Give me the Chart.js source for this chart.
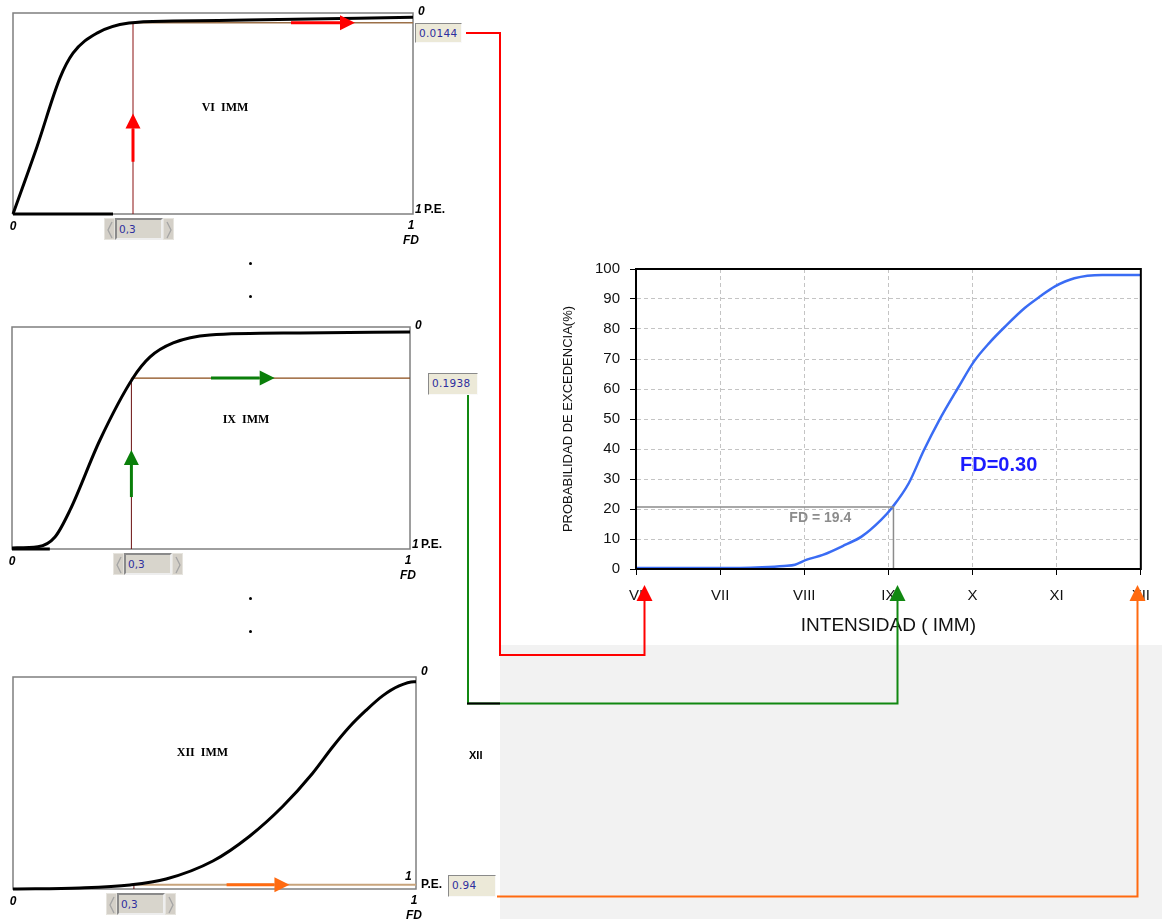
<!DOCTYPE html>
<html>
<head>
<meta charset="utf-8">
<script src="https://cdn.jsdelivr.net/npm/chart.js@4.4.1/dist/chart.umd.min.js"></script>
<style>
  html, body { margin: 0; padding: 0; background: #fff; }
  #page { position: relative; width: 1162px; height: 919px; overflow: hidden; font-family: "Liberation Sans", Arial, sans-serif; }
  .cv { position: absolute; }
  #wm { position: absolute; left: 500px; top: 645px; width: 662px; height: 274px; background: #f2f2f2; }
  .box { position: absolute; box-sizing: border-box; background: #ece9d8; border: 1px solid; border-color: #8a8a8a #fafafa #fafafa #8a8a8a;
         font: 10.5px "DejaVu Sans", Verdana, sans-serif; color: #2e2e9e; padding: 3px 0 0 3px; letter-spacing: 0.3px; }
  .slider { position: absolute; height: 22px; }
  .slider .btn { position: absolute; top: 0; height: 22px; width: 11px; background: #d4d0c8; box-sizing: border-box; border: 1px solid #e6e4de; }
  .slider .btn svg { position: absolute; left: 0; top: 0; }
  .slider .fld { position: absolute; top: 0; height: 22px; width: 48px; box-sizing: border-box; background: #d8d5cc; border: 2px solid; border-color: #8a8a8a #eeeeee #eeeeee #8a8a8a;
                 font: 10.5px "DejaVu Sans", Verdana, sans-serif; color: #2e2e9e; padding: 3px 0 0 2px; }
  .dot { position: absolute; width: 3px; height: 3px; border-radius: 50%; background: #000; }
  #xii { position: absolute; left: 469px; top: 749px; font: bold 11px "Liberation Sans", Arial, sans-serif; }
  #links { position: absolute; left: 0; top: 0; }
</style>
</head>
<body>
<div id="page">
  <div id="wm"></div>
  <div class="cv" style="left:0;top:0;width:470px;height:250px"><canvas id="cVI"></canvas></div>
  <div class="cv" style="left:0;top:310px;width:470px;height:270px"><canvas id="cIX"></canvas></div>
  <div class="cv" style="left:0;top:655px;width:470px;height:264px"><canvas id="cXII"></canvas></div>
  <div class="cv" style="left:540px;top:250px;width:622px;height:400px"><canvas id="cMain"></canvas></div>

  <div class="box" style="left:415px;top:23px;width:47px;height:20px">0.0144</div>
  <div class="box" style="left:428px;top:373px;width:50px;height:22px">0.1938</div>
  <div class="box" style="left:448px;top:875px;width:48px;height:22px">0.94</div>

  <div class="slider" style="left:104px;top:218px"></div>
  <div class="slider" style="left:113px;top:553px"></div>
  <div class="slider" style="left:106px;top:893px"></div>

  <div class="dot" style="left:249px;top:262px"></div>
  <div class="dot" style="left:249px;top:295px"></div>
  <div class="dot" style="left:249px;top:597px"></div>
  <div class="dot" style="left:249px;top:630px"></div>
  <div id="xii">XII</div>

  <svg id="links" width="1162" height="919"></svg>
</div>

<script>
// ---- small charts: P.E. vs FD (y axis reversed: 0 at top, 1 at bottom)
const readFD = 0.3;
const readFDText = '0,3';

const fdVI = [0, 0.06, 0.1175, 0.15, 0.21, 0.29, 0.4, 0.585, 1];
const peVI = [1.0, 0.665, 0.323, 0.2, 0.1, 0.05, 0.04, 0.035, 0.021];
const peLineVI = 0.048;

const fdIX = [0, 0.065, 0.108, 0.146, 0.221, 0.304, 0.347, 0.405, 0.497, 0.724, 1];
const peIX = [0.995, 0.99, 0.946, 0.824, 0.509, 0.23, 0.135, 0.072, 0.036, 0.027, 0.022];
const peLineIX = 0.23;

const fdXII = [0, 0.166, 0.29, 0.38, 0.496, 0.587, 0.669, 0.743, 0.793, 0.834, 0.875, 0.917, 0.958, 0.995, 1];
const peXII = [1.0, 0.995, 0.981, 0.953, 0.868, 0.751, 0.611, 0.455, 0.33, 0.237, 0.159, 0.089, 0.042, 0.022, 0.022];
const peLineXII = 0.98;

// ---- main chart: exceedance probability vs intensity
const intensityLabels = ['VI', 'VII', 'VIII', 'IX', 'X', 'XI', 'XII'];
const intensity = [6.0, 7.0, 7.5, 7.76, 7.89, 8.03, 8.22, 8.49, 8.68, 8.91, 9.05, 9.24, 9.42, 9.6, 9.83, 10.02, 10.2, 10.39, 10.62, 10.8, 10.98, 11.21, 11.54, 12.0];
const exceedance = [0.3, 0.3, 0.6, 1.0, 1.4, 3.1, 4.7, 8.1, 10.8, 16.3, 20.7, 28.5, 39.5, 49.4, 60.5, 69.3, 75.4, 80.9, 87.0, 90.8, 94.2, 96.9, 98.0, 98.0];
const refIntensity = 9.06;
const refLevel = 20.7;
// where the connector arrows hit the intensity axis
const arrowIntensity = [6.1, 9.1, 11.95];

const pts = (xs, ys) => xs.map((x, i) => ({ x: x, y: ys[i] }));

// slider widgets under each small chart
const chev = (d) => `<svg width="11" height="22"><polyline points="${d}" fill="none" stroke="#a4a4a4" stroke-width="1.3"/></svg>`;
document.querySelectorAll('.slider').forEach(el => {
  el.innerHTML = `<div class="btn" style="left:0">${chev('7,3 3,11 7,19')}</div>` +
    `<div class="fld" style="left:11px">${readFDText}</div>` +
    `<div class="btn" style="left:59px">${chev('3,3 7,11 3,19')}</div>`;
});

function drawArrow(ctx, x1, y1, x2, y2, color) {
  const ang = Math.atan2(y2 - y1, x2 - x1), head = 15, half = 7.5;
  const bx = x2 - head * Math.cos(ang), by = y2 - head * Math.sin(ang);
  ctx.strokeStyle = color;
  ctx.lineWidth = 3;
  ctx.beginPath(); ctx.moveTo(x1, y1); ctx.lineTo(bx, by); ctx.stroke();
  ctx.fillStyle = color;
  ctx.beginPath();
  ctx.moveTo(x2, y2);
  ctx.lineTo(bx + half * Math.sin(ang), by - half * Math.cos(ang));
  ctx.lineTo(bx - half * Math.sin(ang), by + half * Math.cos(ang));
  ctx.closePath(); ctx.fill();
}

const smallDecor = {
  id: 'smallDecor',
  beforeDatasetsDraw(chart, args, o) {
    const { ctx, chartArea: a } = chart;
    ctx.save();
    ctx.strokeStyle = '#7f7f7f';
    ctx.lineWidth = 1.5;
    ctx.strokeRect(a.left, a.top, a.right - a.left, a.bottom - a.top);
    ctx.restore();
  },
  afterDatasetsDraw(chart, args, o) {
    const { ctx, chartArea: a, scales: { x, y } } = chart;
    ctx.save();
    o.arrows.forEach(ar => drawArrow(ctx, x.getPixelForValue(ar[0]), y.getPixelForValue(ar[1]),
      x.getPixelForValue(ar[2]), y.getPixelForValue(ar[3]), o.color));

    ctx.fillStyle = '#000';
    ctx.textBaseline = 'middle';
    ctx.textAlign = 'center';
    ctx.font = 'bold 12px "Liberation Serif", "Times New Roman", serif';
    ctx.fillText(o.title, x.getPixelForValue(o.titleAt[0]), y.getPixelForValue(o.titleAt[1]));

    ctx.font = 'italic bold 12px "Liberation Sans", Arial, sans-serif';
    ctx.fillText('0', a.left, a.bottom + 13);
    ctx.fillText('1', a.right - 2, a.bottom + 12);
    ctx.fillText('FD', a.right - 2, a.bottom + 27);
    ctx.textAlign = 'left';
    ctx.fillText('0', a.right + 5, a.top - 1 - o.topShift);
    if (o.oneInside) {
      ctx.fillText('1', a.right - 11, a.bottom - 12);
      ctx.font = 'bold 12px "Liberation Sans", Arial, sans-serif';
      ctx.fillText('P.E.', a.right + 5, a.bottom - 4);
    } else {
      ctx.fillText('1', a.right + 2, a.bottom - 4);
      ctx.font = 'bold 12px "Liberation Sans", Arial, sans-serif';
      ctx.fillText('P.E.', a.right + 11, a.bottom - 4);
    }
    ctx.restore();
  }
};

function smallChart(id, fd, pe, peLine, baseEnd, padding, decor, readColors) {
  const sets = [
    { data: pts(fd, pe), borderColor: '#000', borderWidth: 3, cubicInterpolationMode: 'monotone' },
    { data: [{ x: readFD, y: peLine }, { x: 1, y: peLine }], borderColor: readColors[0], borderWidth: readColors[2] },
    { data: [{ x: readFD, y: 1 }, { x: readFD, y: peLine }], borderColor: readColors[1], borderWidth: 1 }
  ];
  if (baseEnd) sets.push({ data: [{ x: 0, y: 1 }, { x: baseEnd, y: 1 }], borderColor: '#000', borderWidth: 3 });
  sets.forEach(s => { s.pointRadius = 0; s.clip = 6; });
  return new Chart(document.getElementById(id), {
    type: 'line',
    data: { datasets: sets },
    options: {
      responsive: true, maintainAspectRatio: false, animation: false,
      layout: { padding: padding },
      scales: {
        x: { type: 'linear', min: 0, max: 1, display: false },
        y: { min: 0, max: 1, reverse: true, display: false }
      },
      plugins: { legend: { display: false }, tooltip: { enabled: false }, smallDecor: decor }
    },
    plugins: [smallDecor]
  });
}

smallChart('cVI', fdVI, peVI, peLineVI, 0.25, { left: 13, top: 13, right: 57, bottom: 36 },
  { title: 'VI  IMM', titleAt: [0.53, 0.47], color: '#ff0000', topShift: 0, oneInside: false,
    arrows: [[readFD, 0.74, readFD, 0.5], [0.695, peLineVI, 0.855, peLineVI]] },
  ['#9c7048', '#8b1010', 1.5]);

smallChart('cIX', fdIX, peIX, peLineIX, 0.095, { left: 12, top: 17, right: 60, bottom: 31 },
  { title: 'IX  IMM', titleAt: [0.588, 0.42], color: '#0a7f0a', topShift: 0, oneInside: false,
    arrows: [[readFD, 0.766, readFD, 0.554], [0.5, peLineIX, 0.66, peLineIX]] },
  ['#8a4a16', '#6b1010', 1.2]);

smallChart('cXII', fdXII, peXII, peLineXII, 0, { left: 13, top: 22, right: 54, bottom: 30 },
  { title: 'XII  IMM', titleAt: [0.47, 0.36], color: '#ff6a10', topShift: 4, oneInside: true,
    arrows: [[0.53, peLineXII, 0.686, peLineXII]] },
  ['#c8a47c', '#6b1010', 2]);

// ---- main chart
const mainDecor = {
  id: 'mainDecor',
  afterDatasetsDraw(chart) {
    const { ctx, chartArea: a, scales: { x, y } } = chart;
    ctx.save();
    ctx.strokeStyle = '#000';
    ctx.lineWidth = 2;
    ctx.strokeRect(a.left, a.top, a.right - a.left, a.bottom - a.top);
    ctx.textAlign = 'center';
    ctx.textBaseline = 'middle';
    ctx.fillStyle = '#8c8c8c';
    ctx.font = 'bold 14px "Liberation Sans", Arial, sans-serif';
    ctx.fillText('FD = 19.4', x.getPixelForValue(8.19), y.getPixelForValue(16.9));
    ctx.fillStyle = '#1c1cff';
    ctx.font = 'bold 20px "Liberation Sans", Arial, sans-serif';
    ctx.fillText('FD=0.30', x.getPixelForValue(10.31), y.getPixelForValue(34.6));
    ctx.restore();
  }
};

const tickFont = { family: '"Liberation Sans", Arial, sans-serif', size: 15 };
const mainChart = new Chart(document.getElementById('cMain'), {
  type: 'line',
  data: {
    datasets: [
      { data: [{ x: 6, y: refLevel }, { x: refIntensity, y: refLevel }, { x: refIntensity, y: 0 }],
        borderColor: '#8c8c8c', borderWidth: 1.5, pointRadius: 0 },
      { data: pts(intensity, exceedance), borderColor: '#3a6cf4', borderWidth: 2.5, pointRadius: 0,
        cubicInterpolationMode: 'monotone' }
    ]
  },
  options: {
    responsive: true, maintainAspectRatio: false, animation: false,
    layout: { padding: { left: 0, top: 19, right: 17, bottom: 0 } },
    scales: {
      x: {
        type: 'linear', min: 6, max: 12,
        afterFit: s => { s.height = 81; },
        ticks: { stepSize: 1, color: '#111', font: tickFont, padding: 12, maxRotation: 0,
                 callback: v => intensityLabels[v - 6] },
        grid: { color: '#c4c4c4', tickColor: '#000', tickLength: 6, tickBorderDash: [] },
        border: { color: '#000', width: 2, dash: [4, 3] },
        title: { display: true, text: 'INTENSIDAD ( IMM)', color: '#111',
                 font: { family: '"Liberation Sans", Arial, sans-serif', size: 19 }, padding: { top: 0, bottom: 13 } }
      },
      y: {
        min: 0, max: 100,
        afterFit: s => { s.width = 96; },
        ticks: { stepSize: 10, color: '#111', font: tickFont, padding: 10 },
        grid: { color: '#c4c4c4', tickColor: '#000', tickLength: 6, tickBorderDash: [] },
        border: { color: '#000', width: 2, dash: [4, 3] },
        title: { display: true, text: 'PROBABILIDAD DE EXCEDENCIA(%)', color: '#111',
                 font: { family: '"Liberation Sans", Arial, sans-serif', size: 13 }, padding: { top: 21, bottom: 0 } }
      }
    },
    plugins: { legend: { display: false }, tooltip: { enabled: false } }
  },
  plugins: [mainDecor]
});

// ---- connectors from the P.E. boxes to the intensity axis
function drawLinks() {
  const sx = mainChart.scales.x;
  const baseY = mainChart.chartArea.bottom + 250 + 16;
  const ax = arrowIntensity.map(v => Math.round(sx.getPixelForValue(v) + 540) + 0.5);
  const head = (x, c) => `<polygon points="${x - 8},${baseY + 16} ${x + 8},${baseY + 16} ${x},${baseY}" fill="${c}"/>`;
  const svg = document.getElementById('links');
  svg.innerHTML =
    `<path d="M466,33 H500 V655 H${ax[0]} V${baseY + 15}" fill="none" stroke="#ff0000" stroke-width="2"/>` + head(ax[0], '#ff0000') +
    `<path d="M468,395 V703.5 H${ax[1]} V${baseY + 15}" fill="none" stroke="#118811" stroke-width="2"/>` +
    `<path d="M467,703.5 H500" stroke="#000" stroke-width="2"/>` + head(ax[1], '#118811') +
    `<path d="M497,896.5 H${ax[2]} V${baseY + 15}" fill="none" stroke="#ff6a10" stroke-width="2"/>` + head(ax[2], '#ff6a10');
}
drawLinks();
</script>
</body>
</html>
